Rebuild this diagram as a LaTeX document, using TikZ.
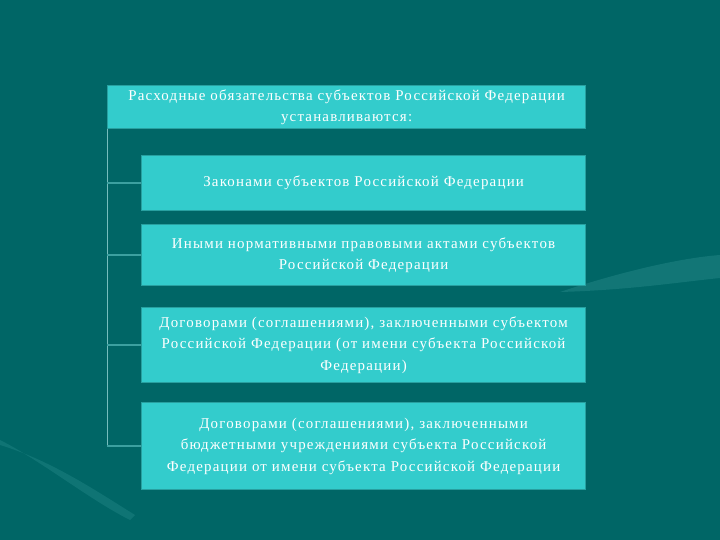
\documentclass[tikz,border=0pt]{standalone}
\usepackage{fontspec}
\setmainfont{Liberation Serif}[LetterSpace=8]
\definecolor{bgteal}{RGB}{0,102,102}
\definecolor{boxfill}{RGB}{51,204,204}
\definecolor{boxedge}{RGB}{40,160,160}
\definecolor{linkc}{RGB}{60,160,160}
\definecolor{swoosh}{RGB}{30,130,130}
\tikzset{
  card/.style={fill=boxfill, draw=boxedge, line width=1.2bp, inner sep=0pt, text=white, align=center,
    font=\fontsize{15}{21.5}\selectfont},
  link/.style={draw=linkc, line width=2.5bp},
  spine/.style={draw=linkc!70!white, line width=0.8bp}
}
\begin{document}
\begin{tikzpicture}[x=1bp,y=-1bp]
\fill[bgteal] (0,0) rectangle (720,540);
\useasboundingbox (0,0) rectangle (720,540);
% faint background swooshes
\fill[swoosh, opacity=0.6] (560,292) .. controls (620,272) and (680,258) .. (720,255) -- (720,278) .. controls (680,282) and (630,290) .. (560,292) -- cycle;
\fill[swoosh, opacity=0.5] (0,440) .. controls (40,460) and (90,500) .. (130,520) -- (135,515) .. controls (95,490) and (50,460) .. (0,445) -- cycle;
% boxes
\node[card, minimum width=478bp, minimum height=43bp, anchor=north west] (top) at (107,85)
  {Расходные обязательства субъектов Российской Федерации\\устанавливаются:};
\node[card, minimum width=444bp, minimum height=55bp, anchor=north west] (b2) at (141,155)
  {Законами субъектов Российской Федерации};
\node[card, minimum width=444bp, minimum height=61bp, anchor=north west] (b3) at (141,224)
  {Иными нормативными правовыми актами субъектов\\Российской Федерации};
\node[card, minimum width=444bp, minimum height=75bp, anchor=north west] (b4) at (141,307)
  {Договорами (соглашениями), заключенными субъектом\\Российской Федерации (от имени субъекта Российской\\Федерации)};
\node[card, minimum width=444bp, minimum height=87bp, anchor=north west] (b5) at (141,402)
  {Договорами (соглашениями), заключенными\\бюджетными учреждениями субъекта Российской\\Федерации от имени субъекта Российской Федерации};
% connectors
\coordinate (spinetop) at (top.south west);
\coordinate (spinebot) at (spinetop |- b5.west);
\draw[spine] (spinetop) -- (spinebot);
\draw[link] (spinetop |- b2.west) -- (b2.west);
\draw[link] (spinetop |- b3.west) -- (b3.west);
\draw[link] (spinetop |- b4.west) -- (b4.west);
\draw[link] (spinetop |- b5.west) -- (b5.west);
\end{tikzpicture}
\end{document}
